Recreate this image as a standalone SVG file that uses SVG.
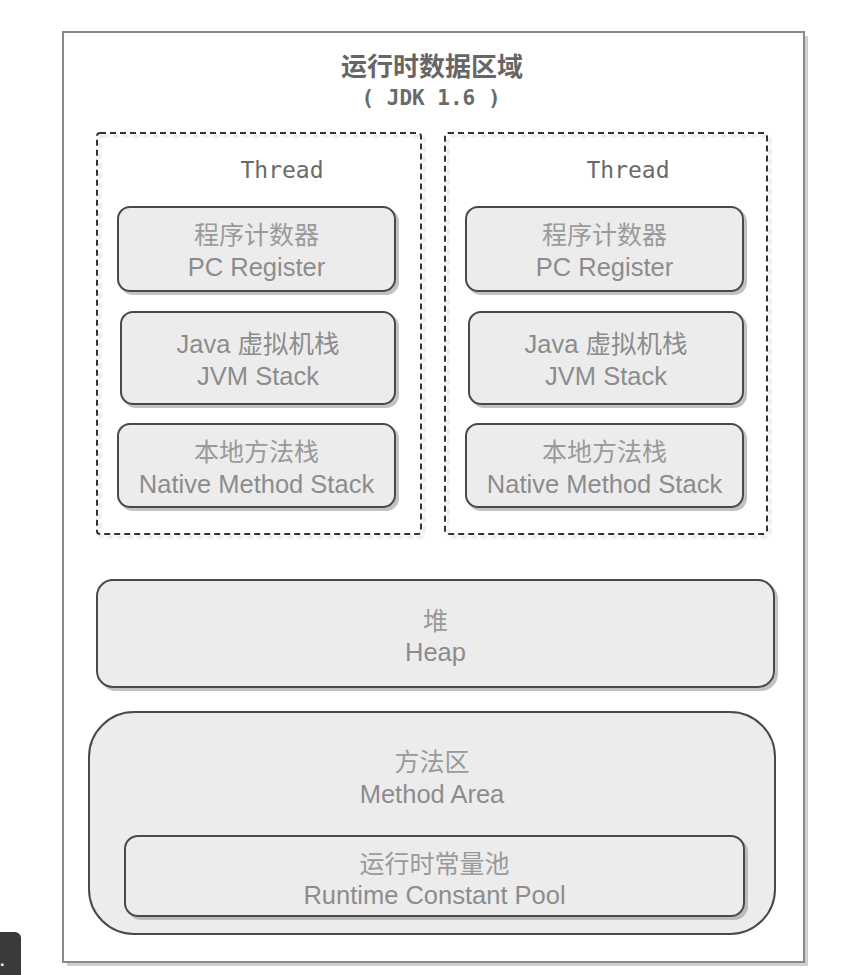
<svg xmlns="http://www.w3.org/2000/svg" width="860" height="975" viewBox="0 0 860 975">
  <defs>
    <filter id="sh" x="-5%" y="-5%" width="115%" height="115%">
      <feDropShadow dx="3" dy="3" stdDeviation="0.7" flood-color="#999" flood-opacity="0.6"/>
    </filter>
    <filter id="shl" x="-5%" y="-5%" width="115%" height="115%">
      <feDropShadow dx="3" dy="3" stdDeviation="0.8" flood-color="#bbb" flood-opacity="0.5"/>
    </filter>
    <style>
      .frame { fill: #ffffff; stroke: #8a8a8a; stroke-width: 2; }
      .thread { fill: none; stroke: #333; stroke-width: 2; stroke-dasharray: 6 4; }
      .box { fill: #ececec; stroke: #4a4a4a; stroke-width: 2; }
      .cn { font-family: "Noto Sans CJK SC", "Liberation Sans", sans-serif; font-size: 25px; fill: #9a9a9a; text-anchor: middle; }
      .en { font-family: "Liberation Sans", "Noto Sans CJK SC", sans-serif; font-size: 25.5px; fill: #8c8c8c; text-anchor: middle; }
      .mono { font-family: "DejaVu Sans Mono", "Liberation Mono", monospace; fill: #6a6a6a; text-anchor: middle; }
      .title { font-family: "Noto Sans CJK SC", sans-serif; font-size: 26px; font-weight: 600; fill: #666; text-anchor: middle; }
    </style>
  </defs>
  <rect width="860" height="975" fill="#ffffff"/>

  <g id="frame">
    <rect x="67" y="36" width="741" height="930" fill="#cfcfcf"/>
    <rect class="frame" x="63" y="32" width="741" height="930"/>
    <text class="title" x="432" y="76">运行时数据区域</text>
    <text class="mono" x="431" y="105" font-size="21" font-weight="bold">( JDK 1.6 )</text>
  </g>

  <g id="thread-left">
    <rect class="thread" x="97" y="133" width="324" height="401" rx="3" filter="url(#shl)"/>
    <text class="mono" x="282" y="178" font-size="23">Thread</text>
  </g>
  <g id="pc-left">
    <rect class="box" x="118" y="207" width="277" height="84" rx="12" filter="url(#sh)"/>
    <text class="cn" x="256.5" y="244">程序计数器</text>
    <text class="en" x="256.5" y="276">PC Register</text>
  </g>
  <g id="jvm-left">
    <rect class="box" x="121" y="312" width="274" height="92" rx="12" filter="url(#sh)"/>
    <text class="en" x="258" y="353">Java 虚拟机栈</text>
    <text class="en" x="258" y="385">JVM Stack</text>
  </g>
  <g id="native-left">
    <rect class="box" x="118" y="424" width="277" height="83" rx="12" filter="url(#sh)"/>
    <text class="cn" x="256.5" y="461">本地方法栈</text>
    <text class="en" x="256.5" y="493">Native Method Stack</text>
  </g>

  <g id="thread-right">
    <rect class="thread" x="445" y="133" width="322" height="401" rx="3" filter="url(#shl)"/>
    <text class="mono" x="628" y="178" font-size="23">Thread</text>
  </g>
  <g id="pc-right">
    <rect class="box" x="466" y="207" width="277" height="84" rx="12" filter="url(#sh)"/>
    <text class="cn" x="604.5" y="244">程序计数器</text>
    <text class="en" x="604.5" y="276">PC Register</text>
  </g>
  <g id="jvm-right">
    <rect class="box" x="469" y="312" width="274" height="92" rx="12" filter="url(#sh)"/>
    <text class="en" x="606" y="353">Java 虚拟机栈</text>
    <text class="en" x="606" y="385">JVM Stack</text>
  </g>
  <g id="native-right">
    <rect class="box" x="466" y="424" width="277" height="83" rx="12" filter="url(#sh)"/>
    <text class="cn" x="604.5" y="461">本地方法栈</text>
    <text class="en" x="604.5" y="493">Native Method Stack</text>
  </g>

  <g id="heap">
    <rect class="box" x="97" y="580" width="677" height="107" rx="16" filter="url(#sh)"/>
    <text class="cn" x="435.5" y="630">堆</text>
    <text class="en" x="435.5" y="661">Heap</text>
  </g>

  <g id="method-area">
    <rect class="box" x="89" y="712" width="686" height="222" rx="45"/>
    <text class="cn" x="432" y="771">方法区</text>
    <text class="en" x="432" y="803">Method Area</text>
  </g>
  <g id="runtime-constant-pool">
    <rect class="box" x="125" y="836" width="619" height="80" rx="13" filter="url(#sh)"/>
    <text class="cn" x="434.5" y="873">运行时常量池</text>
    <text class="en" x="434.5" y="904">Runtime Constant Pool</text>
  </g>

  <g id="corner-badge">
    <path d="M0,932 H15 A6,6 0 0 1 21,938 V975 H0 Z" fill="#3a3a3a"/>
    <text x="0" y="966" font-family="Liberation Sans, sans-serif" font-size="16" font-weight="bold" fill="#ffffff">.</text>
  </g>
</svg>
